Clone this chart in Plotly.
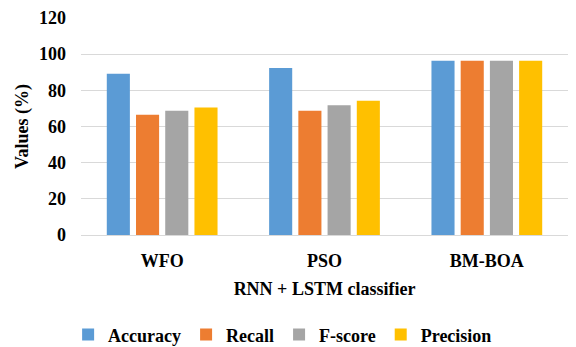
import plotly.graph_objects as go

# Optimizers compared with the RNN + LSTM classifier
optimizers = ["WFO", "PSO", "BM-BOA"]

# Metric values (%) per optimizer
accuracy = [89.2, 92.3, 96.4]
recall = [66.5, 68.7, 96.4]
f_score = [68.7, 71.8, 96.4]
precision = [70.5, 74.2, 96.4]

metric_names = ["Accuracy", "Recall", "F-score", "Precision"]
metric_values = [accuracy, recall, f_score, precision]
metric_colors = ["#5B9BD5", "#ED7D31", "#A5A5A5", "#FFC000"]

y_ticks = [0, 20, 40, 60, 80, 100, 120]

FONT = "Liberation Serif"
bold = dict(family=FONT, size=18, color="black", weight="bold")

fig = go.Figure()
for name, vals, color in zip(metric_names, metric_values, metric_colors):
    fig.add_trace(go.Bar(
        name=name,
        x=optimizers,
        y=vals,
        marker=dict(color=color, line=dict(width=0)),
    ))

fig.update_layout(
    width=576,
    height=347,
    margin=dict(l=81, r=8, t=18, b=112, autoexpand=False),
    paper_bgcolor="white",
    plot_bgcolor="white",
    barmode="group",
    bargap=0.28,
    bargroupgap=0.21,
    font=dict(family=FONT, size=18, color="black"),
    showlegend=True,
    legend=dict(
        orientation="h",
        x=0.414,
        xanchor="center",
        y=-0.46,
        yanchor="middle",
        font=bold,
        itemclick=False,
        bgcolor="rgba(0,0,0,0)",
    ),
)

fig.update_xaxes(
    automargin=False,
    showgrid=False,
    showline=False,
    zeroline=False,
    ticks="",
    ticklabelstandoff=13,
    tickfont=bold,
    title=dict(text="RNN + LSTM classifier", font=bold, standoff=12),
)

fig.update_yaxes(
    automargin=False,
    range=[0, 120],
    tickvals=y_ticks,
    showgrid=True,
    gridcolor="#D9D9D9",
    gridwidth=1,
    zeroline=True,
    zerolinecolor="#D9D9D9",
    zerolinewidth=1,
    showline=False,
    ticks="",
    ticklabelstandoff=14,
    tickfont=bold,
    title=dict(text="Values (%)", font=bold, standoff=5),
)

fig.write_html("out.html")
